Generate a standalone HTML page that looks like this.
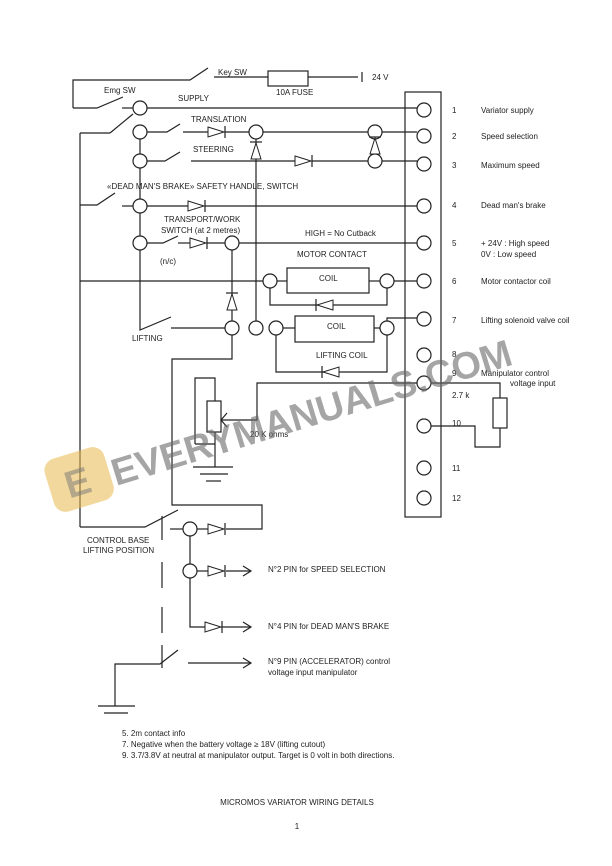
<!DOCTYPE html>
<html><head><meta charset="utf-8"><style>
html,body{margin:0;padding:0;background:#fff;}
svg{display:block;}
text{font-family:"Liberation Sans",sans-serif;font-size:8px;fill:#222;}
</style></head><body>
<svg width="612" height="866" viewBox="0 0 612 866" xmlns="http://www.w3.org/2000/svg">
<defs>
<g id="dr"><polygon points="0,-5 16,0 0,5" fill="#fff" stroke="#222" stroke-width="1"/><line x1="17" y1="-6" x2="17" y2="6" stroke="#222" stroke-width="1.2"/></g>
</defs>
<g stroke="#222" stroke-width="1.2" fill="none">
<polyline points="73,108 73,80 190,80 208,68"/>
<line x1="214" y1="77" x2="268" y2="77"/>
<rect x="268" y="71" width="40" height="15"/>
<line x1="308" y1="77" x2="358" y2="77"/>
<line x1="362" y1="72" x2="362" y2="82"/>
<polyline points="73,108 97,108 123,97"/>
<line x1="122" y1="108" x2="133" y2="108"/>
<line x1="147" y1="108" x2="417" y2="108"/>
<rect x="405" y="92" width="36" height="425"/>
<polyline points="110,133 133,114"/>
<polyline points="80,133 110,133"/>
<line x1="80" y1="133" x2="80" y2="527"/>
<line x1="140" y1="139" x2="140" y2="154"/>
<line x1="140" y1="168" x2="140" y2="199"/>
<line x1="140" y1="213" x2="140" y2="236"/>
<polyline points="140,250 140,330 171,317"/>
<polyline points="147,132 167,132 180,124"/>
<line x1="183" y1="132" x2="208" y2="132"/>
<line x1="225" y1="132" x2="249" y2="132"/>
<line x1="263" y1="132" x2="368" y2="132"/>
<line x1="382" y1="132" x2="417" y2="132"/>
<line x1="256" y1="139" x2="256" y2="321"/>
<line x1="375" y1="139" x2="375" y2="154"/>
<polyline points="147,161 165,161 180,152"/>
<line x1="191" y1="161" x2="295" y2="161"/>
<line x1="312" y1="161" x2="368" y2="161"/>
<line x1="382" y1="161" x2="417" y2="161"/>
<polyline points="80,205 97,205 115,193"/>
<line x1="122" y1="206" x2="133" y2="206"/>
<line x1="147" y1="206" x2="188" y2="206"/>
<line x1="205" y1="206" x2="417" y2="206"/>
<polyline points="147,243 163,243 178,236"/>
<line x1="178" y1="243" x2="190" y2="243"/>
<line x1="207" y1="243" x2="225" y2="243"/>
<line x1="239" y1="243" x2="417" y2="243"/>
<line x1="232" y1="250" x2="232" y2="321"/>
<line x1="80" y1="281" x2="263" y2="281"/>
<line x1="277" y1="281" x2="287" y2="281"/>
<rect x="287" y="268" width="82" height="25"/>
<line x1="369" y1="281" x2="380" y2="281"/>
<line x1="394" y1="281" x2="417" y2="281"/>
<polyline points="270,288 270,305 387,305 387,288"/>
<line x1="171" y1="328" x2="225" y2="328"/>
<rect x="295" y="316" width="79" height="26"/>
<line x1="283" y1="328" x2="295" y2="328"/>
<line x1="374" y1="328" x2="380" y2="328"/>
<polyline points="387,321 387,318 417,318"/>
<polyline points="276,335 276,372 387,372 387,335"/>
<polyline points="232,335 232,359 172,359 172,505 262,505 262,529 226,529"/>
<polyline points="195,444 195,378 215,378 215,401"/>
<rect x="207" y="401" width="14" height="31"/>
<polyline points="195,444 215,444"/>
<line x1="215" y1="432" x2="215" y2="467"/>
<line x1="193" y1="467" x2="233" y2="467"/>
<line x1="200" y1="474" x2="228" y2="474"/>
<line x1="206" y1="481" x2="221" y2="481"/>
<polyline points="227,413 221,420 227,427"/>
<polyline points="221,420 257,420 257,383 417,383"/>
<polyline points="431,383 500,383 500,398"/>
<rect x="493" y="398" width="14" height="30"/>
<polyline points="500,428 500,447 475,447 475,426 431,426"/>
<polyline points="80,527 145,527 178,510"/>
<line x1="170" y1="529" x2="183" y2="529"/>
<line x1="197" y1="529" x2="208" y2="529"/>
<line x1="190" y1="536" x2="190" y2="564"/>
<polyline points="190,578 190,627 205,627"/>
<line x1="197" y1="571" x2="208" y2="571"/>
<line x1="226" y1="571" x2="250" y2="571"/>
<line x1="222" y1="627" x2="250" y2="627"/>
<polyline points="243,566 251,571 243,576"/>
<polyline points="243,622 251,627 243,632"/>
<line x1="162" y1="516" x2="162" y2="540"/>
<line x1="162" y1="562" x2="162" y2="588"/>
<line x1="162" y1="607" x2="162" y2="633"/>
<line x1="162" y1="645" x2="162" y2="668"/>
<polyline points="115,706 115,664 160,664 178,650"/>
<line x1="188" y1="663" x2="250" y2="663"/>
<polyline points="243,658 251,663 243,668"/>
<line x1="98" y1="706" x2="135" y2="706"/>
<line x1="104" y1="713" x2="128" y2="713"/>
</g>
<g stroke="#222" stroke-width="1.2" fill="#fff">
<circle cx="424" cy="110" r="7"/><circle cx="424" cy="136" r="7"/><circle cx="424" cy="164" r="7"/><circle cx="424" cy="206" r="7"/><circle cx="424" cy="243" r="7"/><circle cx="424" cy="281" r="7"/><circle cx="424" cy="319" r="7"/><circle cx="424" cy="355" r="7"/><circle cx="424" cy="383" r="7"/><circle cx="424" cy="426" r="7"/><circle cx="424" cy="468" r="7"/><circle cx="424" cy="498" r="7"/>
<circle cx="140" cy="108" r="7"/><circle cx="140" cy="132" r="7"/><circle cx="140" cy="161" r="7"/><circle cx="140" cy="206" r="7"/><circle cx="140" cy="243" r="7"/>
<circle cx="256" cy="132" r="7"/><circle cx="375" cy="132" r="7"/><circle cx="375" cy="161" r="7"/>
<circle cx="232" cy="243" r="7"/><circle cx="270" cy="281" r="7"/><circle cx="387" cy="281" r="7"/>
<circle cx="232" cy="328" r="7"/><circle cx="256" cy="328" r="7"/><circle cx="276" cy="328" r="7"/><circle cx="387" cy="328" r="7"/>
<circle cx="190" cy="529" r="7"/><circle cx="190" cy="571" r="7"/>
</g>
<use href="#dr" x="208" y="132"/>
<use href="#dr" x="295" y="161"/>
<use href="#dr" x="188" y="206"/>
<use href="#dr" x="190" y="243"/>
<use href="#dr" x="208" y="529"/>
<use href="#dr" x="208" y="571"/>
<use href="#dr" x="205" y="627"/>
<use href="#dr" transform="translate(256,159) rotate(-90)"/>
<use href="#dr" transform="translate(375,154) rotate(-90)"/>
<use href="#dr" transform="translate(232,310) rotate(-90)"/>
<use href="#dr" transform="translate(333,305) rotate(180)"/>
<use href="#dr" transform="translate(339,372) rotate(180)"/>
<text x="218" y="75">Key SW</text>
<text x="276" y="95">10A FUSE</text>
<text x="372" y="80">24 V</text>
<text x="104" y="93">Emg SW</text>
<text x="178" y="101">SUPPLY</text>
<text x="191" y="122">TRANSLATION</text>
<text x="193" y="152">STEERING</text>
<text x="107" y="189">«DEAD MAN'S BRAKE» SAFETY HANDLE, SWITCH</text>
<text x="164" y="222">TRANSPORT/WORK</text>
<text x="161" y="233">SWITCH  (at 2 metres)</text>
<text x="305" y="236">HIGH = No Cutback</text>
<text x="160" y="264">(n/c)</text>
<text x="297" y="257">MOTOR CONTACT</text>
<text x="319" y="281">COIL</text>
<text x="327" y="329">COIL</text>
<text x="316" y="358">LIFTING COIL</text>
<text x="132" y="341">LIFTING</text>
<text x="250" y="437">20 K ohms</text>
<text x="452" y="398">2.7 k</text>
<text x="452" y="426">10</text>
<text x="87" y="543">CONTROL BASE</text>
<text x="83" y="553">LIFTING POSITION</text>
<text x="268" y="572">N°2 PIN for SPEED SELECTION</text>
<text x="268" y="629">N°4 PIN for DEAD MAN'S BRAKE</text>
<text x="268" y="664">N°9 PIN (ACCELERATOR) control</text>
<text x="268" y="675">voltage input manipulator</text>
<text x="452" y="113">1</text><text x="481" y="113">Variator supply</text>
<text x="452" y="139">2</text><text x="481" y="139">Speed selection</text>
<text x="452" y="168">3</text><text x="481" y="168">Maximum speed</text>
<text x="452" y="208">4</text><text x="481" y="208">Dead man's brake</text>
<text x="452" y="246">5</text><text x="481" y="246">+ 24V : High speed</text>
<text x="481" y="257">0V      : Low speed</text>
<text x="452" y="284">6</text><text x="481" y="284">Motor contactor coil</text>
<text x="452" y="323">7</text><text x="481" y="323">Lifting solenoid valve coil</text>
<text x="452" y="357">8</text>
<text x="452" y="376">9</text><text x="481" y="376">Manipulator control</text>
<text x="510" y="386">voltage input</text>
<text x="452" y="471">11</text>
<text x="452" y="501">12</text>
<text x="122" y="736">5. 2m contact info</text>
<text x="122" y="747">7. Negative when the battery voltage ≥ 18V (lifting cutout)</text>
<text x="122" y="758">9. 3.7/3.8V at neutral at manipulator output. Target is 0 volt in both directions.</text>
<text x="297" y="805" text-anchor="middle">MICROMOS VARIATOR WIRING DETAILS</text>
<text x="297" y="829" text-anchor="middle">1</text>
<rect x="48" y="452" width="62" height="55" rx="12" fill="#e8b84a" opacity="0.55" transform="rotate(-17 79 479)"/>
<text x="64" y="495" style="font-size:38px;font-weight:bold;fill:#777;opacity:0.5" transform="rotate(-17 79 479)">E</text>
<text x="116" y="486" style="font-size:38px;font-weight:bold;fill:#6a6a6a;opacity:0.6" transform="rotate(-17 116 486)">EVERYMANUALS.COM</text>
</svg>
</body></html>
